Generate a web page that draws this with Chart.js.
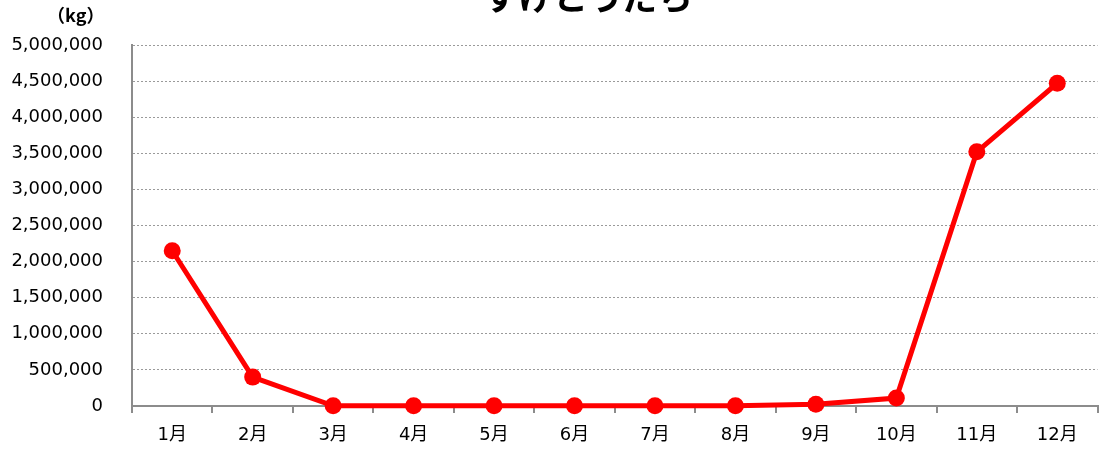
<!DOCTYPE html>
<html>
<head>
<meta charset="utf-8">
<script src="https://cdn.jsdelivr.net/npm/chart.js@4/dist/chart.umd.min.js"></script>
<style>
  html, body { margin: 0; padding: 0; background: #fff; overflow: hidden; }
  #wrap { position: relative; width: 1099px; height: 450px; }
  #title {
    position: absolute; left: 0; width: 1176px; top: -23px; text-align: center;
    font: bold 35px "Noto Sans CJK JP", sans-serif; line-height: 35px; color: #000;
  }
  #unit {
    position: absolute; left: 47px; top: 1px;
    font: bold 18px "Noto Sans CJK JP", sans-serif; color: #000;
  }
</style>
</head>
<body>
<div id="wrap">
  <canvas id="chart" width="1099" height="450"></canvas>
  <div id="title">すけとうだら</div>
  <div id="unit">（kg）</div>
</div>
<script>
  // values (kg)
  const months = ["1月", "2月", "3月", "4月", "5月", "6月", "7月", "8月", "9月", "10月", "11月", "12月"];
  const catch_kg = [2150000, 400000, 3000, 2000, 2000, 2000, 2000, 3000, 25000, 110000, 3520000, 4470000];
  const Y_MAX = 5000000;
  const Y_STEP = 500000;

  const RED = "#ff0000";
  const AXIS = "#8c8c8c";

  new Chart(document.getElementById("chart"), {
    type: "line",
    data: {
      labels: months,
      datasets: [{
        data: catch_kg,
        borderColor: RED,
        backgroundColor: RED,
        borderWidth: 5,
        pointRadius: 8.5,
        pointHoverRadius: 8.5,
        pointBackgroundColor: RED,
        pointBorderColor: RED,
        pointBorderWidth: 0,
        tension: 0,
        clip: false,
      }],
    },
    options: {
      responsive: false,
      animation: false,
      events: [],
      layout: { autoPadding: false, padding: { left: 0, right: 1.5, top: 45, bottom: 0 } },
      plugins: { legend: { display: false }, tooltip: { enabled: false }, title: { display: false } },
      scales: {
        x: {
          offset: true,
          grid: { offset: true, drawOnChartArea: false, drawTicks: true, tickLength: 7, color: AXIS, lineWidth: 2 },
          border: { display: true, color: AXIS, width: 2 },
          ticks: { color: "#000", padding: 12, maxRotation: 0, autoSkip: false,
                   font: { family: "'DejaVu Sans', 'Noto Sans CJK JP', sans-serif", size: 18 } },
          afterFit: (s) => { s.height = 44; },
        },
        y: {
          min: 0, max: Y_MAX,
          grid: { color: "#9a9a9a", lineWidth: 1, drawTicks: false },
          // in v4 border.dash styles the grid lines (dotted like the reference)
          border: { display: true, color: AXIS, width: 2, dash: [2, 2] },
          ticks: {
            stepSize: Y_STEP, color: "#000", padding: 29,
            font: { family: "'DejaVu Sans', sans-serif", size: 18 },
            callback: (v) => v.toLocaleString("en-US"),
          },
          afterFit: (s) => { s.width = 132; },
        },
      },
    },
  });
</script>
</body>
</html>
